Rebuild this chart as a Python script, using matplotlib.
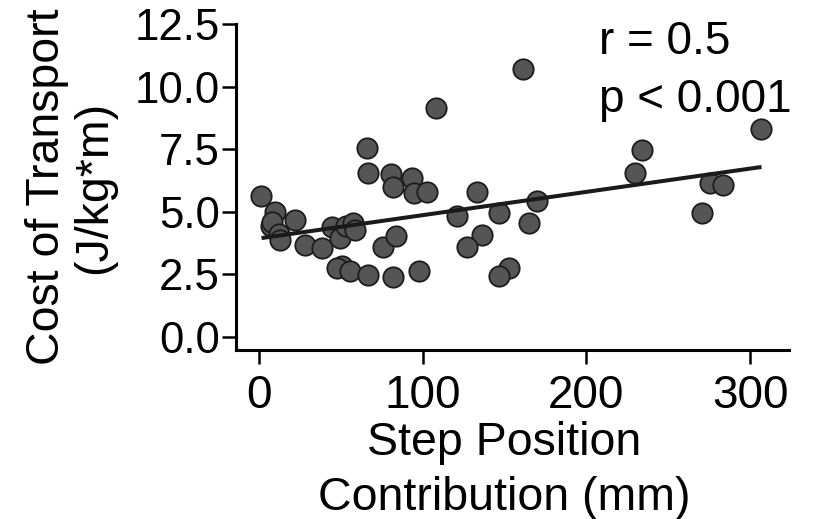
import numpy as np
import matplotlib
matplotlib.use('Agg')
import matplotlib.pyplot as plt

plt.rcParams['font.family'] = ['Liberation Sans', 'DejaVu Sans']

# step position contribution (mm) vs cost of transport (J/kg*m)
step_mm = [1.0, 9.8, 7.1, 8.0, 12.4, 12.8, 22.0, 28.0, 38.3, 44.4,
           49.5, 53.0, 57.5, 58.6, 50.5, 48.0, 55.6, 66.8, 65.8, 66.4,
           80.4, 82.0, 93.3, 94.7, 102.4, 108.0, 76.0, 84.0, 81.7, 97.9,
           121.0, 133.4, 146.8, 169.6, 165.1, 136.0, 126.9, 152.9, 146.8, 161.5,
           234.0, 229.7, 275.5, 283.4, 270.6, 307.0]
cot = [5.64, 5.00, 4.44, 4.60, 4.10, 3.88, 4.68, 3.68, 3.55, 4.41,
       3.95, 4.45, 4.55, 4.28, 2.85, 2.75, 2.63, 2.48, 7.55, 6.55,
       6.51, 5.99, 6.35, 5.75, 5.81, 9.15, 3.61, 4.04, 2.41, 2.65,
       4.84, 5.81, 4.97, 5.45, 4.55, 4.08, 3.61, 2.75, 2.44, 10.70,
       7.45, 6.56, 6.16, 6.05, 4.96, 8.30]

# regression line end points
fit_x = [1.6, 307.0]
fit_y = [3.95, 6.79]

x_ticks = [0, 100, 200, 300]
y_ticks = [0.0, 2.5, 5.0, 7.5, 10.0, 12.5]

W, H = 817, 519
fig = plt.figure(figsize=(W / 100, H / 100), dpi=100)
ax = fig.add_axes([236 / W, (H - 350) / H, (789 - 236) / W, (350 - 24) / H])

ax.scatter(step_mm, cot, s=215, facecolor='#555555', edgecolor='#1c1c1c',
           linewidths=1.3, zorder=2)
ax.plot(fit_x, fit_y, color='#1a1a1a', lw=2.9, solid_capstyle='butt', zorder=3)

ax.set_xlim(-14.0, 323.8)
ax.set_ylim(-0.52, 12.5)
ax.set_xticks(x_ticks)
ax.set_yticks(y_ticks)
ax.set_yticklabels(['%.1f' % v for v in y_ticks])

for side in ['top', 'right']:
    ax.spines[side].set_visible(False)
for side in ['left', 'bottom']:
    ax.spines[side].set_linewidth(2.2)

ax.tick_params(axis='both', direction='out', length=10, width=1.8, color='black')
ax.tick_params(axis='y', labelsize=31.5, pad=1.5)
ax.tick_params(axis='x', labelsize=33, pad=7)

ax.text(207.7, 11.32, 'r = 0.5', fontsize=33, va='baseline', ha='left')
ax.text(207.7, 9.0, 'p < 0.001', fontsize=33, va='baseline', ha='left')

fig.text(504 / W, 1 - 421 / H, 'Step Position\nContribution (mm)', fontsize=33.5,
         ha='center', va='top', multialignment='center', linespacing=1.33)
fig.text(70.5 / W, 1 - 187 / H, 'Cost of Transport\n(J/kg*m)', fontsize=33.5,
         rotation=90, ha='center', va='center', multialignment='center',
         linespacing=1.08)

fig.savefig('out.png', dpi=100)
